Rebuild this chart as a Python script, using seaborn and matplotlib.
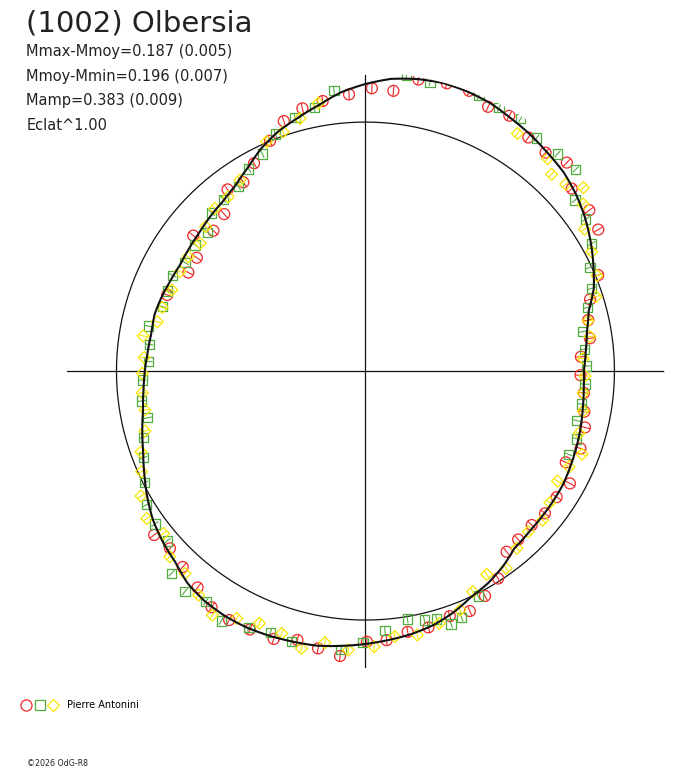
import numpy as np
import pandas as pd
import seaborn as sns
import matplotlib.pyplot as plt
from matplotlib.lines import Line2D
from matplotlib.legend_handler import HandlerTuple

# Data: angle in degrees (0 = right, counter-clockwise), radius = relative flux
fit_angle = list(range(0, 360, 5))
fit_r = [0.877, 0.888, 0.903, 0.928, 0.976, 1.010, 1.044, 1.076, 1.104, 1.127, 1.141, 1.157,
         1.171, 1.187, 1.195, 1.198, 1.191, 1.178, 1.153, 1.124, 1.084, 1.052, 1.024, 0.988,
         0.944, 0.910, 0.890, 0.880, 0.869, 0.863, 0.858, 0.863, 0.871, 0.877, 0.873, 0.878,
         0.886, 0.895, 0.907, 0.928, 0.950, 0.980, 1.012, 1.042, 1.064, 1.082, 1.112, 1.127,
         1.134, 1.135, 1.131, 1.125, 1.120, 1.108, 1.096, 1.084, 1.072, 1.056, 1.032, 1.002,
         0.984, 0.960, 0.930, 0.922, 0.919, 0.917, 0.915, 0.908, 0.901, 0.894, 0.886, 0.880]

red_angle = [84.3, 79.7, 74.2, 69.7, 65.1, 60.6, 55.1, 50.5, 46.0, 41.5, 35.7, 31.3, 22.4, 17.7,
             12.9, 8.3, 3.8, 358.9, 354.3, 349.5, 345.6, 340.2, 335.5, 331.2, 326.6, 321.6,
             317.2, 312.2, 308.0, 302.6, 298.0, 293.5, 289.0, 283.8, 279.2, 274.5, 270.3,
             264.9, 260.3, 255.8, 251.1, 245.9, 241.3, 236.9, 232.2, 227.0, 222.2, 217.8,
             159.0, 150.9, 146.1, 141.8, 137.3, 132.0, 127.2, 122.9, 118.2, 112.5, 108.1,
             103.5, 99.0, 93.4, 88.7]
red_r = [1.131, 1.190, 1.201, 1.200, 1.170, 1.177, 1.144, 1.137, 1.164, 1.106, 1.107, 1.094,
         1.011, 0.947, 0.918, 0.911, 0.867, 0.864, 0.882, 0.894, 0.910, 0.918, 0.884, 0.937,
         0.920, 0.920, 0.910, 0.913, 0.921, 0.989, 1.023, 1.051, 1.041, 1.060, 1.061, 1.084,
         1.087, 1.149, 1.130, 1.114, 1.137, 1.137, 1.140, 1.132, 1.100, 1.076, 1.060, 1.074,
         0.853, 0.814, 0.816, 0.880, 0.831, 0.848, 0.916, 0.903, 0.947, 1.001, 1.056,
         1.085, 1.098, 1.113, 1.136]

green_angle = [82.1, 77.4, 67.6, 63.1, 58.4, 53.7, 48.5, 43.8, 39.2, 34.6, 29.4, 24.8, 20.1,
               16.0, 10.3, 5.7, 1.3, 356.6, 351.3, 346.8, 342.2, 337.7, 296.6, 291.3, 288.7,
               286.0, 283.3, 279.6, 274.3, 269.5, 265.0, 254.7, 250.0, 245.6, 240.0, 235.3,
               230.7, 226.2, 220.6, 216.0, 211.4, 206.8, 201.3, 196.6, 192.1, 187.6, 182.3,
               177.5, 173.0, 168.3, 162.4, 158.0, 153.6, 149.0, 143.5, 138.7, 134.2, 129.6,
               124.6, 120.0, 115.4, 110.8, 105.5, 101.0, 96.4]
green_r = [1.200, 1.190, 1.196, 1.186, 1.190, 1.161, 1.164, 1.170, 1.086, 1.075, 1.043, 0.993,
           0.968, 0.928, 0.885, 0.883, 0.888, 0.883, 0.878, 0.871, 0.891, 0.880, 1.011, 1.062,
           1.072, 1.036, 1.027, 1.010, 1.046, 1.091, 1.122, 1.127, 1.116, 1.131, 1.159, 1.126,
           1.145, 1.125, 1.048, 1.045, 1.030, 0.995, 0.958, 0.931, 0.895, 0.907, 0.897,
           0.873, 0.875, 0.891, 0.856, 0.858, 0.866, 0.845, 0.851, 0.844, 0.886, 0.896,
           0.900, 0.937, 0.965, 1.018, 1.057, 1.077, 1.133]

yellow_angle = [57.4, 49.4, 46.6, 43.0, 40.1, 37.5, 32.9, 27.8, 22.4, 17.9, 12.7, 8.7, 3.3,
                358.7, 354.2, 349.6, 343.8, 339.0, 334.8, 330.2, 324.5, 319.9, 315.4, 310.5,
                305.5, 300.8, 295.9, 291.6, 286.3, 281.1, 276.3, 271.8, 266.5, 261.5, 257.0,
                252.3, 247.2, 242.5, 237.9, 233.3, 228.3, 223.5, 218.8, 214.0, 209.1, 204.2,
                199.8, 195.2, 190.0, 185.6, 180.6, 176.5, 171.0, 166.7, 162.6, 157.3, 151.8,
                147.2, 142.3, 137.9, 132.8, 128.2, 123.3, 113.3, 109.0, 104.5, 100.0]
yellow_r = [1.133, 1.124, 1.088, 1.100, 1.144, 1.102, 1.048, 1.027, 1.006, 0.973, 0.917, 0.912,
            0.876, 0.882, 0.879, 0.889, 0.894, 0.932, 0.904, 0.889, 0.910, 0.930, 0.919, 0.936,
            0.973, 0.951, 0.985, 1.032, 1.056, 1.080, 1.073, 1.108, 1.122, 1.103, 1.143,
            1.106, 1.099, 1.120, 1.157, 1.122, 1.089, 1.083, 1.041, 1.059, 1.032, 0.986,
            0.958, 0.918, 0.899, 0.901, 0.896, 0.890, 0.904, 0.859, 0.855, 0.843, 0.845,
            0.847, 0.839, 0.865, 0.890, 0.891, 0.918, 1.003, 1.016, 1.048, 1.092]

red = '#f02828'
green = '#52ad3f'
yellow = '#f7e600'

fig = plt.figure(figsize=(6.88, 7.68), dpi=100)
ax = fig.add_axes([0.0969, 0.1278, 0.8686, 0.7781], projection='polar')
ax.set_axis_off()

# reference circle and cross
circ = np.linspace(0, 2 * np.pi, 361)
ax.plot(circ, np.ones_like(circ), color='#111111', lw=0.9, zorder=1)
ax.plot([0, 0], [0, 1.2], color='#111111', lw=0.9, zorder=1)
ax.plot([np.pi, np.pi], [0, 1.2], color='#111111', lw=0.9, zorder=1)
ax.plot([np.pi / 2, np.pi / 2], [0, 1.19], color='#111111', lw=0.9, zorder=1)
ax.plot([3 * np.pi / 2, 3 * np.pi / 2], [0, 1.19], color='#111111', lw=0.9, zorder=1)

series = [
    (red_angle, red_r, red, 'o', 62, 0.022),
    (green_angle, green_r, green, 's', 45, 0.017),
    (yellow_angle, yellow_r, yellow, 'D', 37, 0.016),
]
for ang, rr, col, mk, size, err in series:
    df = pd.DataFrame({"theta": np.deg2rad(ang), "r": rr})
    ax.errorbar(df["theta"], df["r"], yerr=err, fmt='none', ecolor=col, elinewidth=0.8,
                capsize=0, zorder=2)
    sns.scatterplot(data=df, x="theta", y="r", ax=ax, marker=mk, s=size,
                    facecolor='none', edgecolor=col, linewidth=0.9, zorder=2)

# fitted curve (drawn along theta by the polar transform)
fa = np.deg2rad(fit_angle + [fit_angle[0] + 360])
fr = fit_r + [fit_r[0]]
fit_line, = ax.plot(fa, fr, color='#111111', lw=1.5, zorder=3)
fit_line.get_path()._interpolation_steps = 20
ax.set_ylim(0, 1.2)

# texts
fig.text(0.0385, 0.9587, "(1002) Olbersia", fontsize=21, color='#222222', va='baseline')
stats = ["Mmax-Mmoy=0.187 (0.005)", "Mmoy-Mmin=0.196 (0.007)", "Mamp=0.383 (0.009)", "Eclat^1.00"]
for i, line in enumerate(stats):
    fig.text(0.0385, (768 - 56 - 24.7 * i) / 768, line, fontsize=10.5, color='#222222',
             va='baseline')

h1 = Line2D([], [], marker='o', ls='none', mfc='none', mec=red, ms=8, mew=0.9)
h2 = Line2D([], [], marker='s', ls='none', mfc='none', mec=green, ms=6.7, mew=0.9)
h3 = Line2D([], [], marker='D', ls='none', mfc='none', mec=yellow, ms=6, mew=0.9)
fig.legend(handles=[(h1, h2, h3)], labels=["Pierre Antonini"],
           handler_map={tuple: HandlerTuple(ndivide=None, pad=0)},
           loc='center left', bbox_to_anchor=(0.028, 0.082), frameon=False,
           fontsize=7, handlelength=4.2, handletextpad=0.7, borderpad=0, borderaxespad=0)

fig.text(0.039, (768 - 766) / 768, "©2026 OdG-R8", fontsize=5.7, color='#222222', va='baseline')

fig.savefig("out.png", dpi=100)
